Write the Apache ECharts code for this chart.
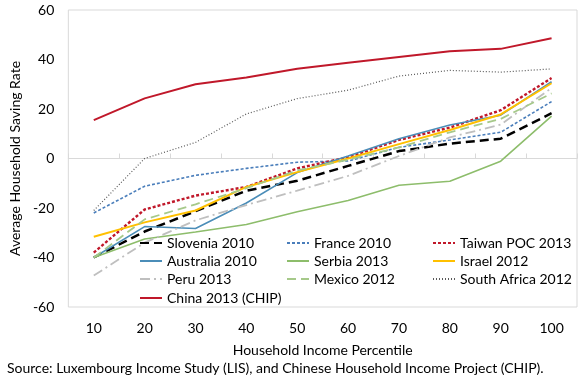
<!DOCTYPE html>
<html>
<head>
<meta charset="utf-8">
<script src="https://cdn.jsdelivr.net/npm/echarts@6/dist/echarts.min.js"></script>
<style>
html,body{margin:0;padding:0;background:#fff;}
#chart{width:586px;height:379px;}
</style>
</head>
<body>
<div id="chart"></div>
<script>
var categories = ['10','20','30','40','50','60','70','80','90','100'];
var yTicks = [-60,-40,-20,0,20,40,60];

var slovenia2010 = [-40, -29.5, -21.3, -13, -9, -3, 3, 6, 8, 18.3];
var france2010 = [-22, -11.2, -6.8, -4, -1.5, -1, 4.5, 7.5, 10.6, 23];
var taiwan2013 = [-38, -20.6, -15, -11.5, -4, 0.5, 7.5, 12.5, 19.5, 32.5];
var australia2010 = [-40, -27.5, -28.3, -18, -5.7, 1, 8, 13.5, 17.5, 31];
var serbia2013 = [-40, -32.5, -29.7, -26.7, -21.5, -17, -10.8, -9.2, -1.1, 17.1];
var israel2012 = [-31.6, -25.8, -21, -11.5, -5.5, 0, 5.8, 11.5, 17.8, 30.4];
var peru2013 = [-47.3, -34, -25, -18.8, -13, -7, 1, 8.5, 13.7, 28.5];
var mexico2012 = [-40, -24.6, -18.5, -12, -4.8, -0.5, 4.5, 10.6, 16, 26.3];
var southAfrica2012 = [-21, 0, 6.5, 18, 24.2, 27.6, 33.3, 35.6, 34.9, 36.2];
var china2013 = [15.5, 24.3, 30, 32.7, 36.3, 38.7, 41, 43.3, 44.3, 48.6];

var FONT = 'Lato';

function mk(name, data, color, width, dash) {
  return {
    name: name, type: 'line', data: data, symbol: 'none', smooth: false,
    xAxisIndex: 0, yAxisIndex: 0,
    lineStyle: { color: color, width: width, type: dash || 'solid' },
    itemStyle: { color: color },
    emphasis: { disabled: true }
  };
}

var series = [
  mk('Slovenia 2010', slovenia2010, '#000000', 2.5, [9, 5]),
  mk('France 2010', france2010, '#4a7ebb', 1.6, [3, 2]),
  mk('Taiwan POC 2013', taiwan2013, '#c0182a', 2.4, [3, 2]),
  mk('Australia 2010', australia2010, '#4b8db8', 1.6),
  mk('Serbia 2013', serbia2013, '#8dbd6b', 1.6),
  mk('Israel 2012', israel2012, '#ffc000', 2),
  mk('Peru 2013', peru2013, '#bfbfbf', 1.8, [10, 4, 2, 4]),
  mk('Mexico 2012', mexico2012, '#a6c98a', 1.8, [9, 5]),
  mk('South Africa 2012', southAfrica2012, '#595959', 1.2, [1, 2]),
  mk('China 2013 (CHIP)', china2013, '#c0182a', 2)
];

var legendPos = [
  ['Slovenia 2010', 139, 236], ['France 2010', 286, 236], ['Taiwan POC 2013', 432, 236],
  ['Australia 2010', 139, 254], ['Serbia 2013', 286, 254], ['Israel 2012', 432, 254],
  ['Peru 2013', 139, 272], ['Mexico 2012', 286, 272], ['South Africa 2012', 432, 272],
  ['China 2013 (CHIP)', 139, 291]
];
var legends = legendPos.map(function (p) {
  return {
    data: [p[0]], left: p[1], top: p[2], padding: 0,
    itemWidth: 22, itemHeight: 14, selectedMode: false,
    itemStyle: { opacity: 0, borderWidth: 0 },
    textStyle: { fontFamily: FONT, fontSize: 14, color: '#000' }
  };
});

var chart = echarts.init(document.getElementById('chart'), null, { renderer: 'canvas' });
chart.setOption({
  animation: false,
  backgroundColor: '#fff',
  grid: { left: 50, top: 10, right: 9, bottom: 72, show: true, borderColor: '#d9d9d9', borderWidth: 1 },
  legend: legends,
  xAxis: [
    {
      type: 'category', data: categories, boundaryGap: true,
      name: 'Household Income Percentile', nameLocation: 'middle', nameGap: 36,
      nameTextStyle: { fontFamily: FONT, fontSize: 14, color: '#000' },
      axisLine: { show: false, onZero: false }, axisTick: { show: false },
      axisLabel: { fontFamily: FONT, fontSize: 14, color: '#000', margin: 14 },
      splitLine: { show: false }
    },
    {
      type: 'category', data: categories, boundaryGap: true, position: 'bottom',
      axisLine: { show: true, onZero: true, lineStyle: { color: '#d9d9d9', width: 1 } },
      axisTick: { show: true, inside: true, length: 5, lineStyle: { color: '#d9d9d9' } },
      axisLabel: { show: false }, splitLine: { show: false }
    }
  ],
  yAxis: {
    type: 'value', min: yTicks[0], max: yTicks[yTicks.length - 1], interval: 20,
    name: 'Average Household Saving Rate', nameLocation: 'middle', nameGap: 32,
    nameTextStyle: { fontFamily: FONT, fontSize: 14, color: '#000' },
    axisLine: { show: false }, axisTick: { show: false },
    axisLabel: { fontFamily: FONT, fontSize: 14, color: '#000', margin: 14 },
    splitLine: { show: false }
  },
  graphic: [{
    type: 'text', left: 7, top: 361,
    style: { text: 'Source: Luxembourg Income Study (LIS), and Chinese Household Income Project (CHIP).', font: '14px ' + FONT, fill: '#000' }
  }],
  series: series
});
</script>
</body>
</html>
